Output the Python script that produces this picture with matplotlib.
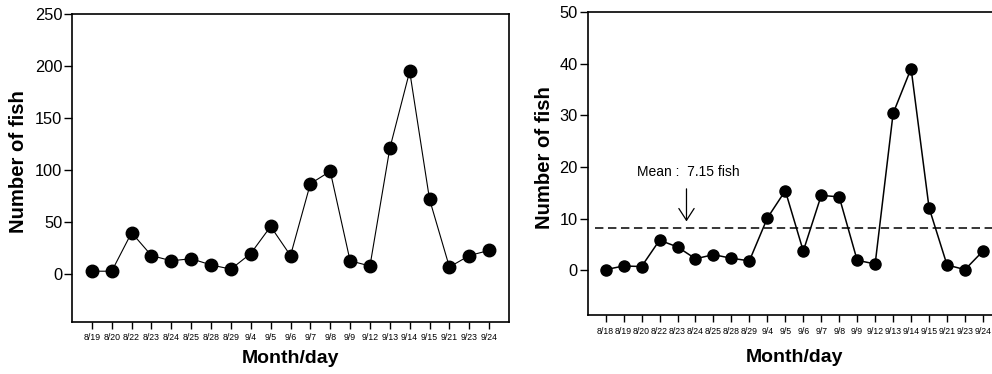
import matplotlib.pyplot as plt
import numpy as np

plt.rcParams['font.family'] = ['Liberation Sans', 'DejaVu Sans']

# left panel
dates_a = ["8/19", "8/20", "8/22", "8/23", "8/24", "8/25", "8/28", "8/29", "9/4", "9/5", "9/6",
           "9/7", "9/8", "9/9", "9/12", "9/13", "9/14", "9/15", "9/21", "9/23", "9/24"]
fish_a = [3, 3, 40, 18, 13, 15, 9, 5, 20, 46, 18, 87, 99, 13, 8, 121, 195, 72, 7, 18, 23]

# right panel
dates_b = ["8/18", "8/19", "8/20", "8/22", "8/23", "8/24", "8/25", "8/28", "8/29", "9/4", "9/5",
           "9/6", "9/7", "9/8", "9/9", "9/12", "9/13", "9/14", "9/15", "9/21", "9/23", "9/24"]
fish_b = [0.1, 0.8, 0.7, 5.8, 4.5, 2.2, 3.0, 2.3, 1.8, 10.1, 15.4,
          3.7, 14.5, 14.2, 1.9, 1.2, 30.4, 39.1, 12.1, 1.0, 0.1, 3.7]
mean_line = 8.2
mean_text = "Mean :  7.15 fish"

fig = plt.figure(figsize=(9.92, 3.74), dpi=100)
ax1 = fig.add_axes([0.0726, 0.1398, 0.4405, 0.8228])
ax2 = fig.add_axes([0.5924, 0.1578, 0.4166, 0.8093])


def style(ax, labels, xlab_y, ylab_x):
    for s in ax.spines.values():
        s.set_linewidth(1.2)
    ax.set_xticks(np.arange(len(labels)))
    ax.set_xticklabels(labels, fontsize=6.3)
    ax.tick_params(axis='x', length=5, width=1, pad=3.3)
    ax.tick_params(axis='y', length=5.5, width=1, pad=1.5, labelsize=11.8)
    ax.set_xlabel('Month/day', fontsize=14, fontweight='bold')
    ax.set_ylabel('Number of fish', fontsize=14.6, fontweight='bold')
    ax.xaxis.set_label_coords(0.5, xlab_y)
    ax.yaxis.set_label_coords(ylab_x, 0.52)


x1 = np.arange(len(dates_a))
ax1.plot(x1, fish_a, color='black', lw=0.8, marker='o', ms=9)
ax1.set_xlim(-1, 21)
ax1.set_ylim(-45.5, 250)
ax1.set_yticks([0, 50, 100, 150, 200, 250])
style(ax1, dates_a, -0.092, -0.1)

x2 = np.arange(len(dates_b))
ax2.hlines(mean_line, -0.6, 22, colors='black', lw=1.1, linestyles=(0, (5.5, 3)))
ax2.plot(x2, fish_b, color='black', lw=1.1, marker='o', ms=8)
ax2.set_xlim(-1, 22)
ax2.set_ylim(-8.7, 50)
ax2.set_yticks([0, 10, 20, 30, 40, 50])
ax2.spines['right'].set_visible(False)
style(ax2, dates_b, -0.112, -0.082)

ax2.annotate('', xy=(4.5, 8.9), xytext=(4.5, 16.3),
             arrowprops=dict(arrowstyle='->, head_length=0.85, head_width=0.55', lw=0.9, color='black'))
ax2.text(1.72, 19.0, mean_text, fontsize=10, ha='left', va='center')

fig.savefig('out.png', dpi=100)
